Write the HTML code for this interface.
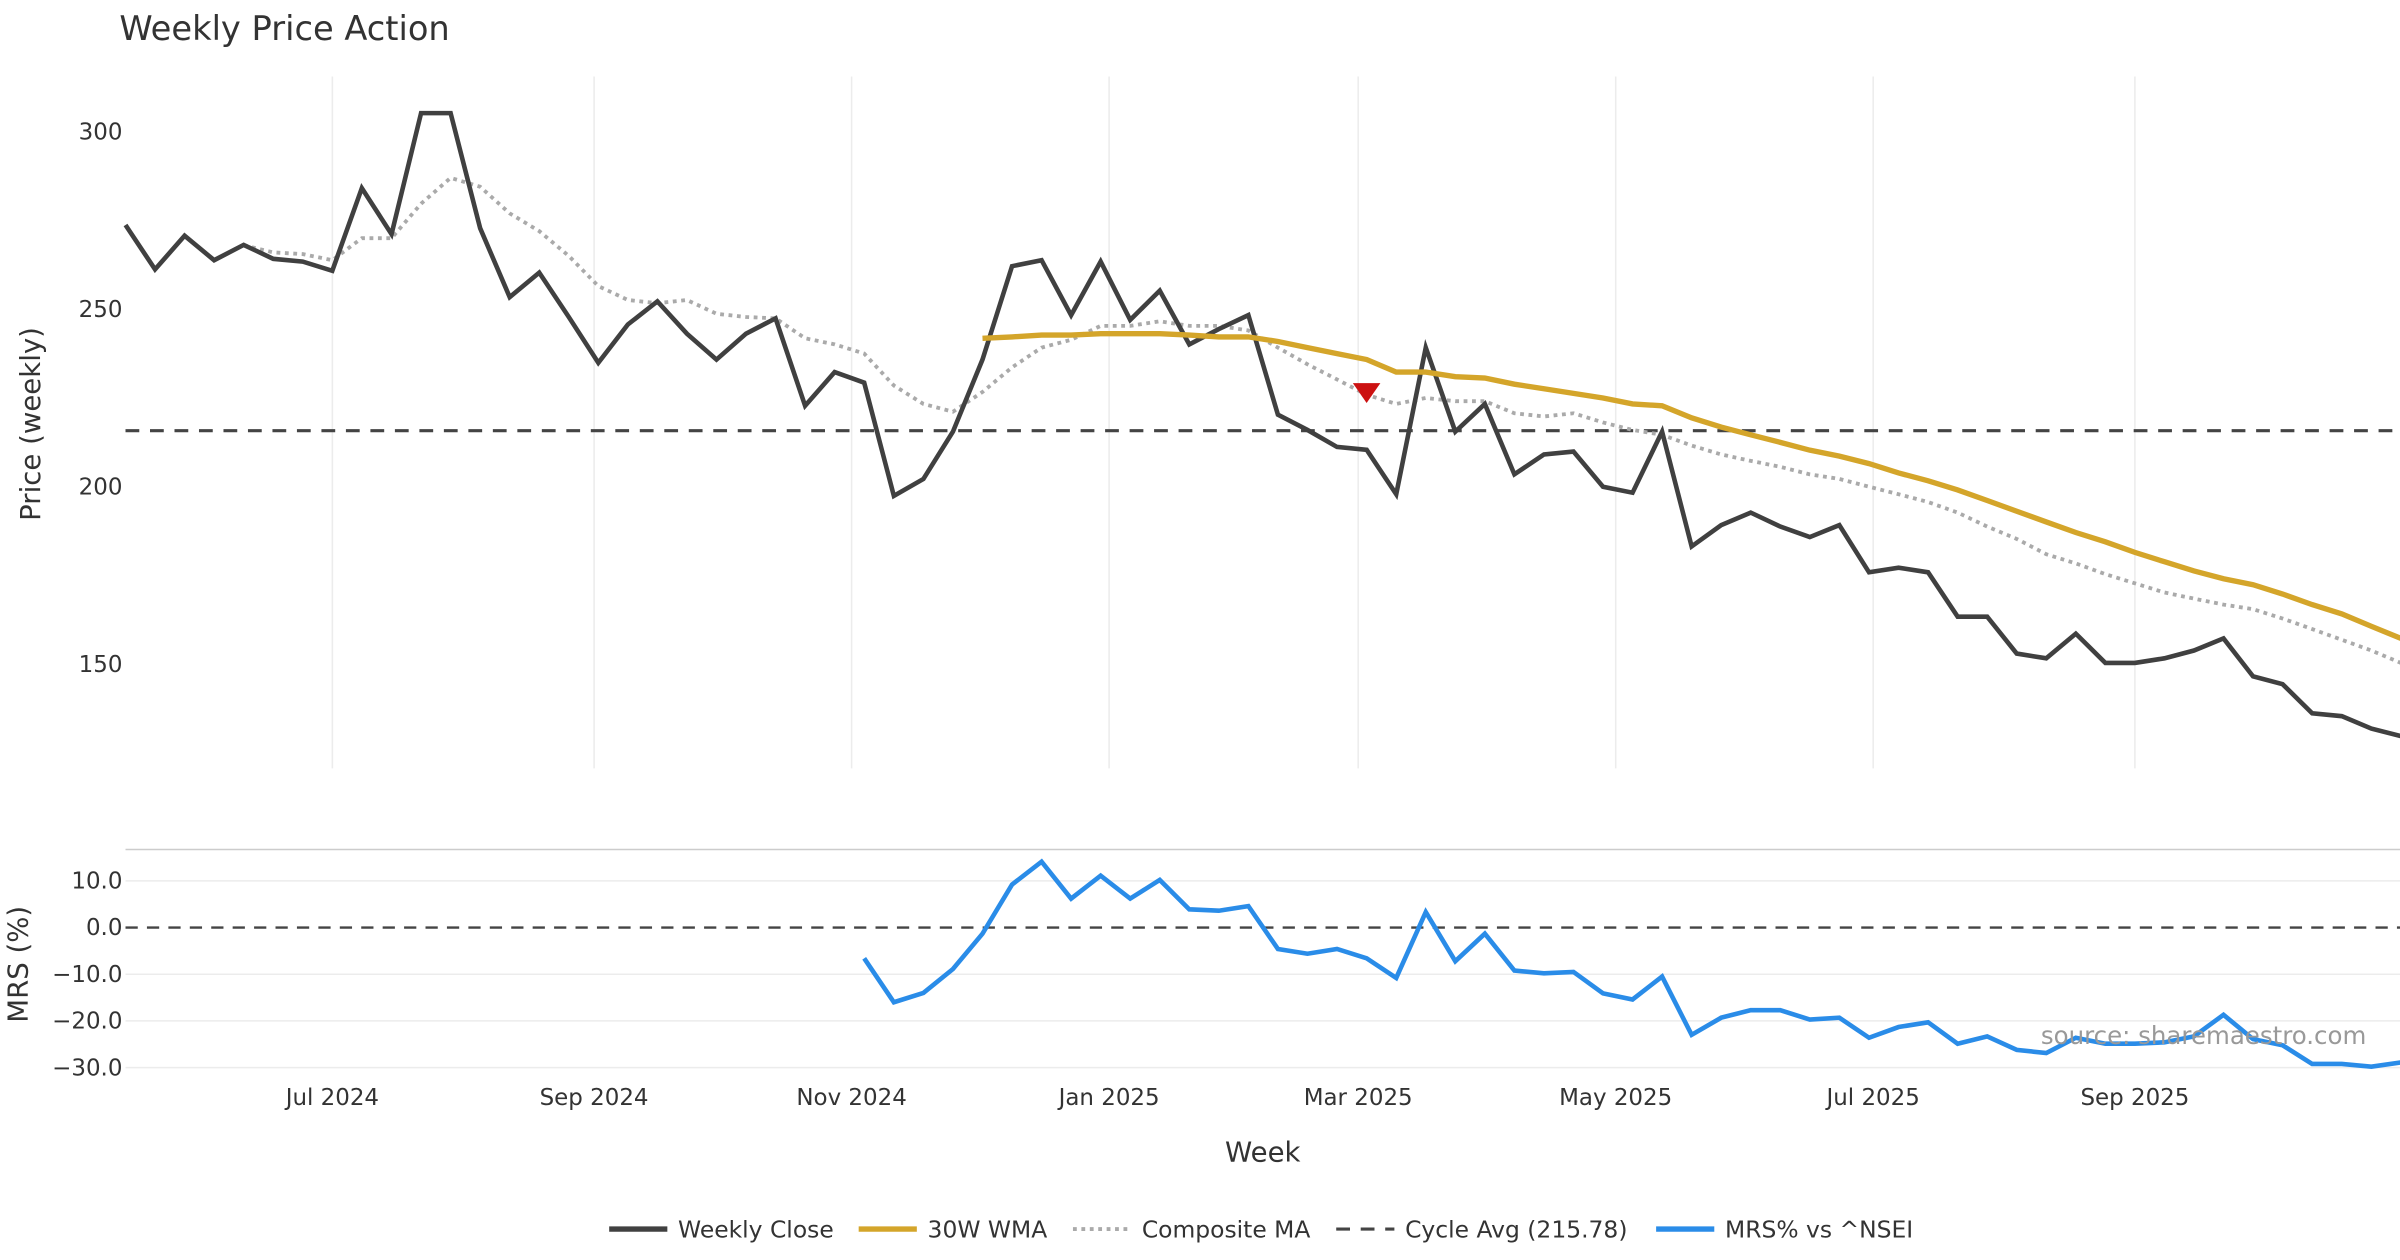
<!DOCTYPE html>
<html><head><meta charset="utf-8">
<style>
html,body{margin:0;padding:0;background:#fff;}
svg{display:block;font-family:"DejaVu Sans","Liberation Sans",sans-serif;}
</style></head>
<body>
<svg id="chart" width="2400" height="1260" viewBox="0 0 1568 823.2" xmlns="http://www.w3.org/2000/svg">
<rect width="1568" height="823.2" fill="#fff"/>
<text x="78" y="26" font-size="22" fill="#333">Weekly Price Action</text>
<g id="grid"></g>
<g id="series"></g>
<text transform="translate(26,277) rotate(-90)" text-anchor="middle" font-size="18" fill="#333">Price (weekly)</text>
<text transform="translate(18,630) rotate(-90)" text-anchor="middle" font-size="18" fill="#333">MRS (%)</text>
<text x="825" y="759" text-anchor="middle" font-size="18" fill="#333">Week</text>
<text x="1546" y="682" text-anchor="end" font-size="16" fill="#999">source: sharemaestro.com</text>
<g id="legend" font-size="15.3" fill="#333">
  <g><line x1="398" y1="803" x2="436" y2="803" stroke="#404040" stroke-width="3.5"/><text x="443" y="808.5">Weekly Close</text></g>
  <g><line x1="561" y1="803" x2="599" y2="803" stroke="#d4a52a" stroke-width="3.5"/><text x="606" y="808.5">30W WMA</text></g>
  <g><line x1="701" y1="803" x2="739" y2="803" stroke="#aaa" stroke-width="2.5" stroke-dasharray="2.5,3"/><text x="746" y="808.5">Composite MA</text></g>
  <g><line x1="873" y1="803" x2="911" y2="803" stroke="#444" stroke-width="2" stroke-dasharray="9,7"/><text x="918" y="808.5">Cycle Avg (215.78)</text></g>
  <g><line x1="1082" y1="803" x2="1120" y2="803" stroke="#2a8ce8" stroke-width="3.5"/><text x="1127" y="808.5">MRS% vs ^NSEI</text></g>
</g>
</svg>
<script>
const startDate = "2024-05-13";
const closeValues = [273.7,261.2,270.7,263.8,268.1,264.2,263.4,260.8,284.1,271.1,305.2,305.2,272.8,253.4,260.3,247.8,234.9,245.7,252.2,243.1,235.8,243.1,247.4,222.8,232.3,229.3,197.4,202.2,215.5,235.8,262.1,263.8,248.3,263.4,247.0,255.2,240.1,244.4,248.3,220.3,216.0,211.2,210.4,197.9,239.2,215.5,223.3,203.5,209.1,209.9,200.0,198.3,215.5,183.2,189.2,192.7,188.8,185.8,189.2,175.9,177.2,175.9,163.4,163.4,153.0,151.7,158.6,150.4,150.4,151.7,153.9,157.3,146.6,144.4,136.2,135.4,131.9,129.8];
const compositeStart = 4;
const compositeValues = [268,266,265.5,263.8,270,270,279.7,287,284.5,277,272,265,256.5,252.6,251.7,252.6,248.7,247.8,247.4,241.8,240.1,237.5,228.5,223.3,221.1,226.7,233.6,239.2,241.4,245.3,245.3,246.6,245.3,245.3,244,239.2,234.5,230.2,225.9,223.3,225,224.1,224.1,220.7,219.8,220.7,218.1,216,214.6,211.6,209.1,207.3,205.6,203.5,202.2,200,197.9,195.7,192.7,188.8,185.3,181,178.4,175.4,172.8,170.2,168.5,166.8,165.5,162.9,159.9,156.9,153.9,150.4];
const wmaStart = 29;
const wmaValues = [241.8,242.2,242.7,242.7,243.1,243.1,243.1,242.7,242.2,242.2,240.9,239.2,237.5,235.8,232.3,232.3,231,230.6,228.9,227.6,226.3,225,223.3,222.8,219.4,216.8,214.6,212.5,210.3,208.6,206.5,203.9,201.7,199.1,196.1,193.1,190.1,187.1,184.5,181.5,178.9,176.3,174.1,172.4,169.8,166.8,164.2,160.7,157.3];
const mrsStart = 25;
const mrsValues = [-6.6,-16,-14,-8.9,-1.3,9.2,14.1,6.2,11.1,6.2,10.2,3.9,3.6,4.6,-4.6,-5.6,-4.6,-6.6,-10.8,3.3,-7.2,-1.3,-9.2,-9.8,-9.5,-14.1,-15.4,-10.5,-23,-19.3,-17.7,-17.7,-19.7,-19.3,-23.6,-21.3,-20.3,-24.9,-23.3,-26.2,-26.9,-23.6,-24.9,-24.9,-24.6,-23.3,-18.7,-23.9,-25.2,-29.2,-29.2,-29.8,-28.9];
const cycleAvg = 215.78;
const signalIndex = 42;
const signalValue = 226.6;
const priceTicks = [150,200,250,300];
const mrsTicks = [10,0,-10,-20,-30];
const monthTicks = ["2024-07-01","2024-09-01","2024-11-01","2025-01-01","2025-03-01","2025-05-01","2025-07-01","2025-09-01"];
const monthLabels = ["Jul 2024","Sep 2024","Nov 2024","Jan 2025","Mar 2025","May 2025","Jul 2025","Sep 2025"];

const NS="http://www.w3.org/2000/svg";
const X0=82, PX_PER_DAY=2.758, PLOT_L=82, PLOT_R=1568;
const t0=Date.parse(startDate);
function xDate(s){return X0+(Date.parse(s)-t0)/86400000*PX_PER_DAY;}
function xIdx(i){return X0+i*7*PX_PER_DAY;}
function yP(v){return 86+(300-v)*116/50;}
function yM(v){return 606-v*3.05;}
function mk(tag,attrs,parent){const e=document.createElementNS(NS,tag);for(const k in attrs)e.setAttribute(k,attrs[k]);parent.appendChild(e);return e;}
const grid=document.getElementById('grid'), ser=document.getElementById('series');

const defs=mk('defs',{},document.getElementById('chart'));
const c1=mk('clipPath',{id:'clipTop'},defs); mk('rect',{x:PLOT_L-2,y:50,width:PLOT_R-PLOT_L+2,height:452},c1);
const c2=mk('clipPath',{id:'clipBot'},defs); mk('rect',{x:PLOT_L,y:556,width:PLOT_R-PLOT_L,height:150},c2);

monthTicks.forEach((m,i)=>{
  const x=xDate(m);
  const g=mk('line',{x1:x,x2:x,y1:50,y2:502,stroke:'#ececec','stroke-width':1},grid);
  
  
  const t=mk('text',{x:x,y:722,'text-anchor':'middle','font-size':15,fill:'#333'},grid);
  t.textContent=monthLabels[i];
  
  
});
priceTicks.forEach(v=>{
  const t=mk('text',{x:80,y:yP(v)+5,'text-anchor':'end','font-size':15,fill:'#333'},grid);
  t.textContent=v;
  
  
});
mk('line',{x1:PLOT_L,x2:PLOT_R,y1:555,y2:555,stroke:'#ccc','stroke-width':1},grid);
mrsTicks.forEach(v=>{
  const y=yM(v);
  if(v!==0){const l=mk('line',{x1:PLOT_L,x2:PLOT_R,y1:y,y2:y,stroke:'#ececec','stroke-width':1},grid);
  
  }
  const t=mk('text',{x:80,y:y+5,'text-anchor':'end','font-size':15,fill:'#333'},grid);
  t.textContent=(v<0?'\u2212'+Math.abs(v).toFixed(1):v.toFixed(1));
  
  
});

function pts(vals,start,yf){return vals.map((v,i)=>xIdx(start+i).toFixed(1)+','+yf(v).toFixed(1)).join(' ');}
const topPanel=mk('g',{'clip-path':'url(#clipTop)'},ser);
const cyc=mk('line',{x1:PLOT_L,x2:PLOT_R,y1:yP(cycleAvg),y2:yP(cycleAvg),stroke:'#444','stroke-width':2,'stroke-dasharray':'9,7'},topPanel);


const comp=mk('polyline',{points:pts(compositeValues,compositeStart,yP),fill:'none',stroke:'#aaa','stroke-width':2.5,'stroke-dasharray':'2.5,3'},topPanel);


const cl=mk('polyline',{points:pts(closeValues,0,yP),fill:'none',stroke:'#404040','stroke-width':3},topPanel);


const wma=mk('polyline',{points:pts(wmaValues,wmaStart,yP),fill:'none',stroke:'#d4a52a','stroke-width':3.5},topPanel);


const sx=xIdx(signalIndex), sy=yP(signalValue);
const tri=mk('polygon',{points:`${sx-9},${sy-6} ${sx+9},${sy-6} ${sx},${sy+7}`,fill:'#cc1111'},topPanel);



const bot=mk('g',{'clip-path':'url(#clipBot)'},ser);
const zero=mk('line',{x1:PLOT_L,x2:PLOT_R,y1:yM(0),y2:yM(0),stroke:'#444','stroke-width':1.6,'stroke-dasharray':'8,6'},bot);


const mrs=mk('polyline',{points:pts(mrsValues,mrsStart,yM),fill:'none',stroke:'#2a8ce8','stroke-width':3},bot);


</script>
</body></html>
